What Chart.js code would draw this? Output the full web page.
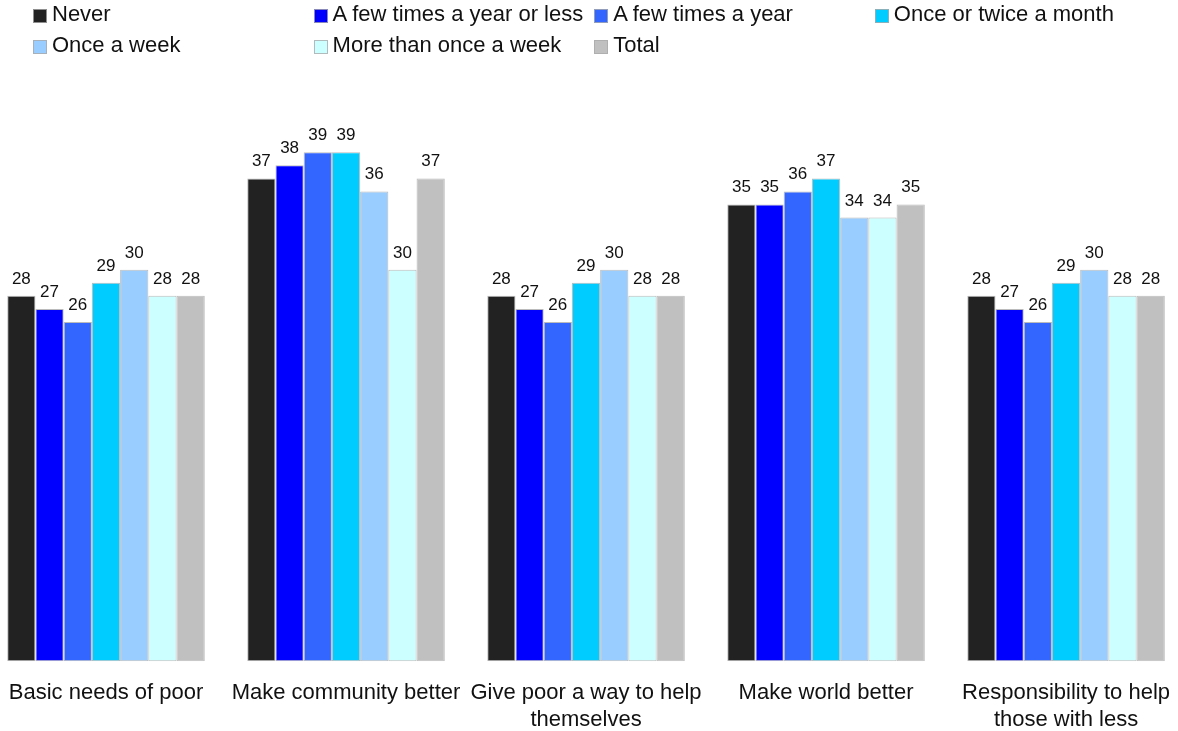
<!DOCTYPE html>
<html>
<head>
<meta charset="utf-8">
<script src="https://cdn.jsdelivr.net/npm/chart.js@4"></script>
<style>
body{margin:0;width:1178px;height:731px;overflow:hidden;background:#fff;font-family:"Liberation Sans",Arial,sans-serif;position:relative;}
#chartBox{position:absolute;left:-14px;top:0;width:1203px;height:752px;}
#legend{position:absolute;left:0;top:0;width:1178px;height:70px;}
.item{position:absolute;height:24px;line-height:24px;font-size:22px;color:#111;white-space:nowrap;}
.item span.box{position:absolute;left:0;top:7px;width:12px;height:12px;border:1px solid rgba(170,170,170,0.8);box-sizing:content-box;}
.item span.txt{position:absolute;left:19px;top:0;}
</style>
</head>
<body>
<div id="chartBox"><canvas id="givingChart"></canvas></div>
<div id="legend"></div>
<script>

// Reasons for giving, by frequency of attendance

const categories=[
['Basic needs of poor'],
['Make community better'],
['Give poor a way to help','themselves'],
['Make world better'],
['Responsibility to help','those with less']
];

const seriesNames=['Never','A few times a year or less','A few times a year','Once or twice a month','Once a week','More than once a week','Total'];

const never=[28,37,28,35,28];
const fewTimesOrLess=[27,38,27,35,27];
const fewTimes=[26,39,26,36,26];
const onceTwiceMonth=[29,39,29,37,29];
const onceWeek=[30,36,30,34,30];
const moreThanWeekly=[28,30,28,34,28];
const total=[28,37,28,35,28];

const seriesColors=['#222222','#0000ff','#3366ff','#00ccff','#99ccff','#ccffff','#c0c0c0'];

const seriesValues=[never,fewTimesOrLess,fewTimes,onceTwiceMonth,onceWeek,moreThanWeekly,total];


// value labels above each bar

const barLabels={
id:'barLabels',
afterDatasetsDraw(chart){
const ctx=chart.ctx;
ctx.save();
ctx.font='17px "Liberation Sans", Arial, sans-serif';
ctx.fillStyle='#111';
ctx.textAlign='center';
ctx.textBaseline='alphabetic';
chart.data.datasets.forEach((ds,i)=>{
chart.getDatasetMeta(i).data.forEach((bar,j)=>{
ctx.fillText(Math.round(ds.data[j]),bar.x,bar.y-12);
});
});
ctx.restore();
}
};


// legend laid out in columns

const legend=document.getElementById("legend");

seriesNames.forEach((name,i)=>{
let item=document.createElement("div");
item.className="item";
item.style.left=(33+(i%4)*280.6)+"px";
item.style.top=(i<4?1.5:32.5)+"px";
item.innerHTML='<span class="box" style="background:'+seriesColors[i]+'"></span><span class="txt">'+name+'</span>';
legend.appendChild(item);
});


const givingChart=document.getElementById("givingChart");

if(givingChart){

new Chart(givingChart,{

type:'bar',

data:{
labels:categories,
datasets:seriesNames.map((name,i)=>({
label:name,
data:seriesValues[i],
backgroundColor:seriesColors[i],
borderColor:'rgba(175,175,175,0.85)',
borderWidth:1,
borderSkipped:false,
categoryPercentage:0.823,
barPercentage:1
}))
},

options:{
responsive:true,
maintainAspectRatio:false,
animation:false,
layout:{padding:{top:74,left:0,right:0,bottom:0}},
plugins:{
legend:{display:false},
tooltip:{enabled:false}
},
scales:{
x:{
grid:{display:false,drawTicks:false},
border:{display:false},
ticks:{
padding:19,
color:'#111',
font:{family:'"Liberation Sans", Arial, sans-serif',size:22,lineHeight:1.2},
maxRotation:0,
autoSkip:false
}
},
y:{
display:false,
min:0,
max:45
}
}
},

plugins:[barLabels]

});

}

</script>
</body>
</html>
